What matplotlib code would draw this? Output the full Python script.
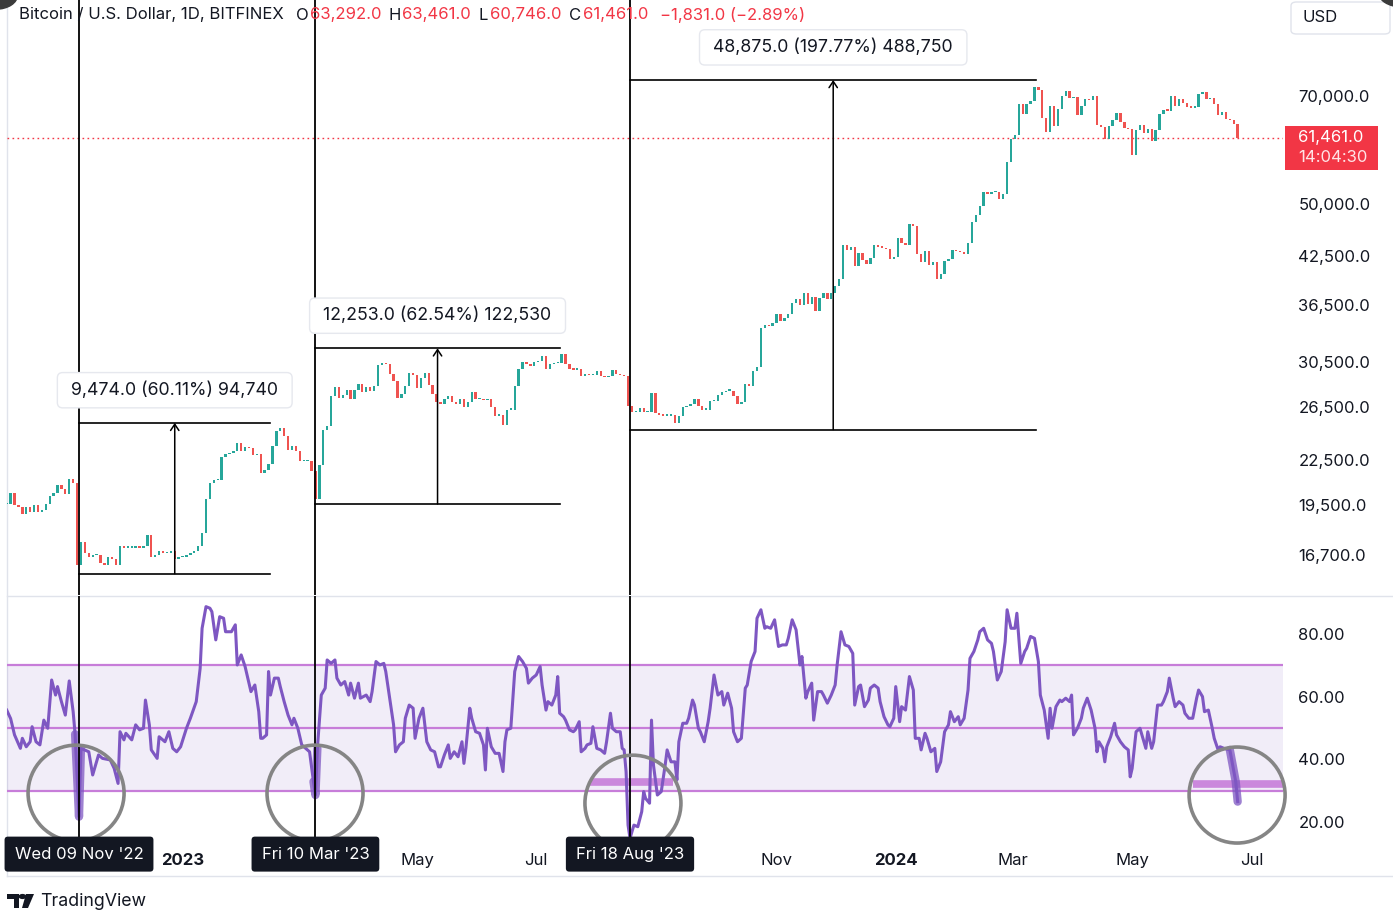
import numpy as np
import pandas as pd
import matplotlib
matplotlib.use('Agg')
import matplotlib.pyplot as plt
import matplotlib.dates as mdates
import matplotlib.transforms as mtrans
from matplotlib.patches import Circle, FancyBboxPatch, Rectangle, Polygon
from matplotlib.lines import Line2D
from matplotlib.ticker import NullLocator, FixedLocator, FixedFormatter

plt.rcParams['font.family'] = ['Inter', 'DejaVu Sans']

# ---------------- data ----------------
start = '2022-10-03'   # first 2-day bar, bars every 2 days
close_k = [
    # Oct 2022
    19.6, 20.3, 19.5, 19.4, 19.0, 19.4, 19.1, 19.5, 19.1, 19.2, 19.6, 20.1, 20.3, 20.8, 20.5,
    # Nov 2022
    20.2, 21.2, 20.9, 16.2, 17.4, 16.8, 16.6, 16.7, 16.7, 16.3, 16.2, 16.6, 16.5, 16.2, 17.2,
    # Dec 2022
    17.1, 17.1, 17.1, 17.2, 17.1, 17.2, 17.8, 16.6, 16.7, 16.9, 16.8, 16.8, 16.9, 16.5, 16.6,
    # Jan 2023
    16.6, 16.7, 16.8, 16.9, 17.2, 17.9, 19.9, 20.9, 21.1, 21.1, 22.7, 22.9, 23.0, 23.1, 23.7, 23.1,
    # Feb 2023
    23.4, 23.3, 22.8, 22.9, 21.6, 21.8, 22.2, 23.5, 24.6, 24.8, 24.2, 23.2, 23.5, 23.1,
    # Mar 2023
    22.4, 22.4, 22.4, 21.7, 19.9, 22.1, 24.7, 25.0, 27.4, 28.2, 27.3, 27.5, 28.0, 27.2, 28.0,
    # Apr 2023
    28.5, 27.8, 28.2, 27.9, 28.3, 30.2, 30.4, 30.3, 29.4, 28.8, 27.3, 27.6, 28.3, 29.5, 29.3,
    # May 2023
    28.1, 29.0, 29.5, 28.4, 27.6, 26.9, 26.8, 27.2, 27.4, 26.9, 26.8, 27.2, 26.5, 26.9, 27.8, 27.2,
    # Jun 2023
    27.2, 27.1, 27.2, 26.5, 25.8, 25.9, 25.1, 26.3, 26.3, 28.3, 29.9, 30.5, 30.3, 30.1, 30.5,
    # Jul 2023
    30.6, 31.1, 29.9, 30.3, 30.4, 30.4, 31.3, 30.3, 29.9, 29.8, 29.9, 29.2, 29.4, 29.3, 29.3,
    # Aug 2023
    29.7, 29.2, 29.1, 29.2, 29.8, 29.4, 29.3, 29.2, 26.6, 26.1, 26.1, 26.4, 26.1, 26.1, 27.7, 26.0,
    # Sep 2023
    25.9, 25.8, 25.8, 25.9, 25.2, 25.8, 26.5, 26.6, 26.8, 27.2, 26.6, 26.3, 26.3, 27.0, 27.0,
    # Oct 2023
    27.5, 27.8, 27.9, 27.9, 27.4, 26.8, 26.9, 28.5, 28.3, 29.7, 30.0, 33.9, 34.2, 34.1, 34.5,
    # Nov 2023
    35.4, 34.7, 35.0, 35.4, 36.7, 37.1, 36.5, 37.9, 36.6, 37.4, 35.8, 37.3, 37.8, 37.2, 37.8,
    # Dec 2023
    38.7, 39.5, 44.0, 43.3, 43.7, 41.2, 42.9, 41.9, 41.4, 42.2, 43.9, 43.7, 43.6, 43.4, 42.1, 42.3,
    # Jan 2024
    45.0, 44.2, 44.0, 47.0, 46.6, 42.8, 41.7, 43.1, 41.3, 41.7, 39.5, 40.1, 41.8, 42.1, 43.3,
    # Feb 2024
    43.1, 43.0, 42.7, 44.3, 47.2, 48.3, 49.7, 51.9, 51.6, 51.8, 51.8, 50.7, 51.6, 57.0, 61.2,
    # Mar 2024
    62.0, 68.3, 66.1, 68.3, 68.9, 72.0, 71.4, 65.3, 62.5, 67.9, 63.8, 67.2, 69.9, 71.0, 69.6,
    # Apr 2024
    69.7, 65.9, 67.8, 69.3, 69.1, 70.0, 63.9, 63.5, 61.3, 63.8, 64.9, 66.4, 64.5, 63.4, 63.1,
    # May 2024
    58.3, 62.9, 64.0, 62.3, 63.1, 60.8, 62.9, 66.2, 67.0, 66.9, 70.1, 67.9, 69.3, 68.5, 67.6, 67.5,
    # Jun 2024
    67.7, 70.5, 70.8, 69.3, 69.6, 68.2, 66.0, 66.6, 65.2, 64.9, 64.2, 61.461,
]

# RSI(14) readings: day offset from start, value
rsi_day = [
    0, 2, 4, 7, 8, 10, 12, 13, 15, 17, 19, 21, 23, 25, 26, 28, 30, 32, 34, 35,
    36, 37, 38, 42, 44, 47, 49, 53, 55, 57, 58, 60, 61, 64, 66, 68, 70, 71, 73, 74,
    77, 78, 81, 83, 85, 87, 89, 92, 94, 97, 99, 100, 102, 104, 105, 107, 109, 111, 112, 115,
    117, 118, 120, 122, 123, 125, 127, 129, 130, 131, 133, 134, 135, 137, 139, 140, 142, 144, 146, 147,
    149, 151, 153, 155, 157, 158, 159, 161, 163, 164, 166, 168, 169, 171, 173, 175, 176, 178, 180, 181,
    184, 186, 187, 189, 191, 193, 194, 196, 198, 199, 201, 203, 204, 206, 208, 209, 211, 213, 215,
    217, 219, 221, 222, 224, 226, 227, 229, 231, 233, 234, 235, 237, 238, 240, 242, 244, 245, 246, 248,
    250, 252, 254, 255, 256, 258, 260, 262, 264, 266, 267, 269, 271, 273, 274, 276, 277, 279, 281, 282,
    283, 285, 286, 288, 290, 291, 293, 294, 296, 297, 299, 300, 302, 304, 306, 307, 309, 310, 312, 314,
    315, 316, 317, 318, 319, 320, 321, 323, 325, 326, 327, 329, 330, 331, 333, 335, 337, 338, 340, 342,
    343, 344, 346, 348, 349, 351, 352, 354, 355, 357, 359, 360, 362, 364, 366, 367, 369, 371, 372, 374,
    376, 378, 379, 381, 383, 384, 386, 388, 389, 391, 393, 395, 397, 399, 400, 402, 404, 406, 407, 409,
    410, 412, 413, 415, 417, 418, 420, 422, 424, 425, 427, 429, 431,
    433, 434, 436, 437, 439, 441, 442, 444, 446, 447, 449, 451, 452, 454, 455, 457, 458, 460, 462, 464,
    465, 467, 468, 470, 471, 473, 475, 476, 478, 480, 482, 483, 485, 487, 488, 490, 492, 493, 495, 497,
    498, 500, 502, 504, 505, 507, 509, 511, 512, 514, 516, 517, 519, 521, 522, 524, 526, 528, 529, 531,
    533, 534, 535, 537, 539, 540, 542, 544, 545, 546, 548, 550, 551, 553, 555, 557, 558, 559, 561, 562,
    563, 565, 567, 568, 570, 572, 574, 575, 576, 578, 580, 581, 583, 584, 586, 587, 589, 591, 592, 594,
    595, 597, 598, 600, 602, 603, 605, 607, 609, 610, 612, 613, 615, 617, 618, 620, 621, 623, 626, 629,
    630,
]
rsi_val = [
    55.7, 53, 47.8, 43.5, 46.7, 44, 45.6, 50.4, 45.6, 44.6, 52.5, 49.9, 65.3, 60.5, 63.2, 58.4, 54.1, 65, 55.2, 48,
    35, 21.7, 43.5, 42.4, 35, 41.4, 40.3, 39.8, 37.1, 32.3, 48.8, 46.2, 48.3, 46.2, 51, 49.4, 49.9, 58.9, 51, 43,
    40.3, 47.2, 45.6, 48.8, 43.5, 42.4, 44, 49.9, 53.1, 58.4, 69, 81.8, 88.7, 88.2, 87.1, 78.1, 85.5, 85, 80.7, 80.7,
    82.9, 70.1, 73.3, 69.6, 66.9, 61.6, 63.7, 55.2, 46.7, 46.7, 47.8, 68, 60.5, 65.9, 65.9, 63.2, 58.4, 54.1, 51, 53.1,
    49.9, 44.6, 43.5, 42.4, 32.9, 28.6, 43.5, 60.5, 62.7, 71.7, 70.6, 71.7, 65.9, 63.7, 64.8, 60.5, 64.3, 59.5, 64.3, 59.5,
    60.5, 58.4, 61.6, 71.2, 70.1, 70.6, 68, 59.5, 51, 42.4, 44.6, 45.6, 53.1, 57.3, 56.3, 46.7, 53.1, 56.3, 45.6,
    43, 42.4, 37.6, 37.6, 41.4, 44.6, 40.3, 42.4, 40.8, 45.6, 38.7, 43.5, 56.3, 53.1, 48.8, 48.3, 44.6, 36.6, 49.9, 44,
    41.9, 41.9, 36.1, 45.6, 49.4, 49.9, 68, 72.8, 71.2, 69, 64.3, 65.9, 66.9, 69.6, 63.7, 55.7, 58.4, 57.3, 60.5, 66.4,
    54.7, 53.6, 52.5, 49.4, 48.8, 49.4, 52, 42.4, 43.5, 44.6, 45.1, 50.4, 43.5, 43, 41.9, 45.6, 54.7, 49.9, 48.8, 48.8,
    43.5, 43, 36, 19, 14.8, 16.9, 19, 18.5, 23.3, 29.7, 27.5, 26, 52.5, 38.2, 28.6, 29.7, 38.2, 43, 39.2, 39.2,
    33.4, 45.6, 51.5, 51.5, 53.1, 58.9, 57.3, 49.9, 48.8, 45.6, 52, 56.3, 66.9, 60.5, 61.6, 57.3, 61.1, 56.3, 48.8, 45.6,
    46.7, 62.7, 63.7, 71.2, 74.4, 85, 87.7, 81.8, 82.3, 81.8, 84.5, 76, 76.5, 76.5, 78.6, 84.5, 81.3, 70.1, 72.8, 59.5,
    61.6, 64.3, 52.5, 61.6, 61.6, 60.5, 57.9, 60.5, 63.7, 70.1, 80.7, 76.5, 76,
    73.8, 57.3, 63.2, 63.7, 56.8, 58.9, 62.7, 63.7, 62.7, 58.4, 53.6, 51, 50.4, 53.1, 63.2, 52, 56.8, 55.7, 66.4, 62.1,
    46.7, 46.7, 43, 48.3, 46.7, 42.4, 43.5, 36.1, 39.2, 48.8, 51, 55.2, 52, 53.6, 51, 53.1, 62.1, 72.2, 74.4, 78.1,
    80.7, 81.8, 78.1, 77, 74.4, 65.3, 68, 77.5, 87.7, 81.8, 81.8, 86.6, 70.6, 74.4, 75.4, 79.2, 78.6, 71.2, 60.5, 55.7,
    46.7, 56.3, 49.9, 56.8, 58.9, 58.4, 59.5, 58.4, 60.5, 47.8, 49.9, 53.1, 56.3, 59.5, 55.7, 49.9, 42.4, 45.6, 43.5, 39.2,
    44, 47.2, 51.5, 47.8, 45.6, 44, 43, 34.4, 37.1, 48.8, 49.9, 47.8, 43.5, 48.8, 43.5, 45.6, 57.3, 57.3, 58.4, 61.6,
    65.9, 59.5, 56.8, 58.4, 57.3, 54.7, 53.1, 53.1, 59.5, 62.1, 60, 55.2, 55.7, 49.9, 46.7, 43, 44, 43.5, 43, 32.9,
    26.5,
]

# Events (vertical lines + date labels)
event_dates = ['2022-11-09', '2023-03-10', '2023-08-18']
event_labels = ["Wed 09 Nov '22", "Fri 10 Mar '23", "Fri 18 Aug '23"]

# Price-range measurements
meas_start = ['2022-11-09', '2023-03-10', '2023-08-18']
meas_end = ['2023-02-15', '2023-07-13', '2024-03-13']
meas_change = [9474.0, 12253.0, 48875.0]
meas_pct = [60.11, 62.54, 197.77]
meas_ticks = [94740, 122530, 488750]

# circles drawn on RSI (centre date, centre RSI)
circle_dates = ['2022-11-07 12:00', '2023-03-09 19:00', '2023-08-19 12:00', '2024-06-23 17:00']
circle_rsi = [29.2, 29.2, 26.0, 28.6]

# thick marker strokes in circles
hl_start = ['2023-07-28 12:00', '2024-06-01']
hl_end = ['2023-09-09', '2024-07-20']
hl_level = [32.8, 32.1]

price_ticks = [16700, 19500, 22500, 26500, 30500, 36500, 42500, 50000, 70000]
rsi_ticks = [20, 40, 60, 80]
month_ticks = ['2023-01-01', '2023-05-01', '2023-07-01', '2023-11-01', '2024-01-01',
               '2024-03-01', '2024-05-01', '2024-07-01']
month_labels = ['2023', 'May', 'Jul', 'Nov', '2024', 'Mar', 'May', 'Jul']

last_price = 61461.0
countdown = '14:04:30'
header_ohlc = [('O', '63,292.0'), ('H', '63,461.0'), ('L', '60,746.0'), ('C', '61,461.0')]
header_change = '\u22121,831.0 (\u22122.89%)'

# ---------------- styling ----------------
UP = '#26a69a'
DN = '#ef5350'
RED = '#f23645'
TXT = '#131722'
PURP = '#7e57c2'
BAND = '#c77dd9'
GRID = '#e0e3eb'

W, H = 1393, 916
fig = plt.figure(figsize=(W / 100, H / 100), dpi=100)
fig.patch.set_facecolor('white')


def fx(px):
    return px / W


def fy(py):
    return 1 - py / H


ax = fig.add_axes([fx(7), fy(595), fx(1283) - fx(7), fy(0) - fy(595)])
ar = fig.add_axes([fx(7), fy(843), fx(1283) - fx(7), fy(596) - fy(843)])
for a in (ax, ar):
    for s in a.spines.values():
        s.set_visible(False)
    a.set_facecolor('none')

# ---- candles ----
dates = pd.date_range(start, periods=len(close_k), freq='2D')
xd = mdates.date2num(dates)
c = np.array(close_k) * 1000.0
o = np.r_[c[0], c[:-1]]
lo = np.minimum(o, c)
hi = np.maximum(np.maximum(o, c), lo * 1.004)
up = c >= o
ax.bar(xd[up], (hi - lo)[up], bottom=lo[up], width=1.2, color=UP, linewidth=0, zorder=3)
ax.bar(xd[~up], (hi - lo)[~up], bottom=lo[~up], width=1.2, color=DN, linewidth=0, zorder=3)

ax.set_yscale('log')
ax.set_ylim(14744, 94467)
base = pd.Timestamp('2022-11-09')
x0 = mdates.date2num(base - pd.Timedelta(days=36.85))
x1 = mdates.date2num(base + pd.Timedelta(days=616.2))

ax.yaxis.tick_right()
ax.yaxis.set_minor_locator(NullLocator())
ax.yaxis.set_major_locator(FixedLocator(price_ticks))
ax.yaxis.set_major_formatter(FixedFormatter([f'{v:,.1f}' for v in price_ticks]))
ax.tick_params(axis='y', length=0, pad=11, labelsize=12, labelcolor=TXT)
ax.tick_params(axis='x', length=0, labelbottom=False)

# last price line + label
ax.axhline(last_price, color=RED, lw=1, ls=(0, (1.2, 2.4)), zorder=2)
tr_lbl = fig.dpi_scale_trans + mtrans.ScaledTranslation(
    1.0, last_price, mtrans.blended_transform_factory(ax.transAxes, ax.transData))
fig.add_artist(Rectangle((0.02, -0.32), 0.93, 0.44, transform=tr_lbl, color=RED, lw=0, zorder=5))
fig.text(0.15, 0.0, f'{last_price:,.1f}', transform=tr_lbl, color='white', fontsize=12,
         va='center', ha='left', zorder=6)
fig.text(0.15, -0.20, countdown, transform=tr_lbl, color='#ffe4e6', fontsize=12,
         va='center', ha='left', zorder=6)

# measurements
for s, e, ch, pc, tk in zip(meas_start, meas_end, meas_change, meas_pct, meas_ticks):
    xs = mdates.date2num(pd.Timestamp(s))
    xe = mdates.date2num(pd.Timestamp(e))
    b = ch / (pc / 100.0)
    t = b + ch
    xm = (xs + xe) / 2
    ax.plot([xs, xe], [b, b], color='black', lw=1.2, zorder=4)
    ax.plot([xs, xe], [t, t], color='black', lw=1.2, zorder=4)
    ax.annotate('', xy=(xm, t), xytext=(xm, b),
                arrowprops=dict(arrowstyle='->,head_length=0.45,head_width=0.3', lw=1.1,
                                color='black', shrinkA=0, shrinkB=0), zorder=4)
    ax.annotate(f' {ch:,.1f} ({pc:.2f}%) {tk:,} ', xy=(xm, t), xytext=(0, 23.5),
                textcoords='offset points', ha='center', va='center', fontsize=12.8, color=TXT,
                bbox=dict(boxstyle='round,pad=0.5,rounding_size=0.3', fc='white', ec='#e6e8ee', lw=1),
                zorder=7, annotation_clip=False)

# ---- RSI ----
rdates = pd.Timestamp(start) + pd.to_timedelta(rsi_day, unit='D')
rx = mdates.date2num(rdates)
rv = np.array(rsi_val, dtype=float)
rd = np.array(rsi_day)
ar.axhspan(30, 70, color=PURP, alpha=0.1, lw=0, zorder=1)
for lv in (70, 50, 30):
    ar.axhline(lv, color=BAND, lw=1.6, zorder=2)
ar.plot(rx, rv, color=PURP, lw=2.2, zorder=3, solid_joinstyle='round')
for d0, d1 in ((35, 38), (156, 160), (626, 630)):
    m = (rd >= d0) & (rd <= d1)
    ar.plot(rx[m], rv[m], color=PURP, lw=6, alpha=0.75, zorder=3, solid_capstyle='round')
for s, e, lv in zip(hl_start, hl_end, hl_level):
    ar.plot(mdates.date2num([pd.Timestamp(s), pd.Timestamp(e)]), [lv, lv], color=BAND,
            lw=5.5, alpha=0.9, zorder=2.5, solid_capstyle='butt')
ar.set_ylim(13.3, 92.1)
ar.yaxis.tick_right()
ar.yaxis.set_major_locator(FixedLocator(rsi_ticks))
ar.yaxis.set_major_formatter(FixedFormatter([f'{v:.2f}' for v in rsi_ticks]))
ar.tick_params(axis='y', length=0, pad=11, labelsize=12, labelcolor=TXT)
ar.set_xticks(mdates.date2num(pd.to_datetime(month_ticks)))
ar.set_xticklabels(month_labels)
ar.tick_params(axis='x', length=0, pad=7, labelsize=12, labelcolor=TXT)
for lbl in ar.get_xticklabels():
    if lbl.get_text() in ('2023', '2024'):
        lbl.set_fontweight('bold')

for cd, cv in zip(circle_dates, circle_rsi):
    trc = fig.dpi_scale_trans + mtrans.ScaledTranslation(
        mdates.date2num(pd.Timestamp(cd)), cv, ar.transData)
    ar.add_patch(Circle((0, 0), 0.48, transform=trc, fill=False, ec='#858585', lw=2.6,
                        zorder=6, clip_on=False))

# events
blend = mtrans.blended_transform_factory(ar.transData, ar.transAxes)
for d, lab in zip(event_dates, event_labels):
    xe = mdates.date2num(pd.Timestamp(d))
    ax.axvline(xe, color='black', lw=1.3, zorder=4)
    ar.axvline(xe, color='black', lw=1.3, zorder=4)
    ar.text(xe, -0.045, lab, transform=blend, ha='center', va='center', fontsize=12,
            color='white', zorder=10, clip_on=False,
            bbox=dict(boxstyle='round,pad=0.6,rounding_size=0.2', fc=TXT, ec=TXT, lw=0))

ax.set_xlim(x0, x1)
ar.set_xlim(x0, x1)

# ---- frame lines ----
fig.add_artist(Line2D([fx(7), fx(7)], [fy(0), fy(876)], color=GRID, lw=1, zorder=0))
fig.add_artist(Line2D([fx(7), 1], [fy(595.5), fy(595.5)], color=GRID, lw=1, zorder=0))
fig.add_artist(Line2D([fx(7), 1], [fy(876), fy(876)], color=GRID, lw=1, zorder=0))

# ---- header ----
fig.text(fx(19), fy(15), 'Bitcoin / U.S. Dollar, 1D, BITFINEX', fontsize=12, color=TXT, va='center')
renderer = fig.canvas.get_renderer()
hx = [296, 388, 479, 569]
for (k, v), xk in zip(header_ohlc, hx):
    tk = fig.text(fx(xk), fy(15), k, fontsize=12, color=TXT, va='center')
    bb = tk.get_window_extent(renderer)
    fig.text((bb.x1 + 1.5) / W, fy(15), v, fontsize=12, color=RED, va='center')
fig.text(fx(660), fy(15), header_change, fontsize=12, color=RED, va='center')

# USD box
fig.add_artist(FancyBboxPatch((fx(1291), fy(34)), fx(99), 32 / H,
                              boxstyle='round,pad=0,rounding_size=0.004', transform=fig.transFigure,
                              fc='white', ec=GRID, lw=1, zorder=5))
fig.text(fx(1303), fy(17), 'USD', fontsize=12, color=TXT, va='center', zorder=6)

# corner blobs
fig.add_artist(Circle((fx(-4), fy(-5)), 0.0155, transform=fig.transFigure, color='#3b3b3b', zorder=8))
fig.add_artist(Circle((fx(1402), fy(-9)), 0.0175, transform=fig.transFigure, color='#3b3b3b', zorder=8))

# TradingView logo
fig.add_artist(Polygon([[fx(7), fy(894)], [fx(19), fy(894)], [fx(19), fy(908)], [fx(14), fy(908)],
                        [fx(14), fy(899)], [fx(7), fy(899)]], closed=True, transform=fig.transFigure,
                       color=TXT, lw=0))
fig.add_artist(Circle((fx(22.5), fy(896.5)), 2.6 / H, transform=fig.transFigure, color=TXT, lw=0))
fig.add_artist(Polygon([[fx(26), fy(894)], [fx(34), fy(894)], [fx(28), fy(908)], [fx(22), fy(908)]],
                       closed=True, transform=fig.transFigure, color=TXT, lw=0))
fig.text(fx(40), fy(901), 'TradingView', fontsize=12.8, color=TXT, va='center')

fig.savefig('out.png', dpi=100, facecolor='white')
